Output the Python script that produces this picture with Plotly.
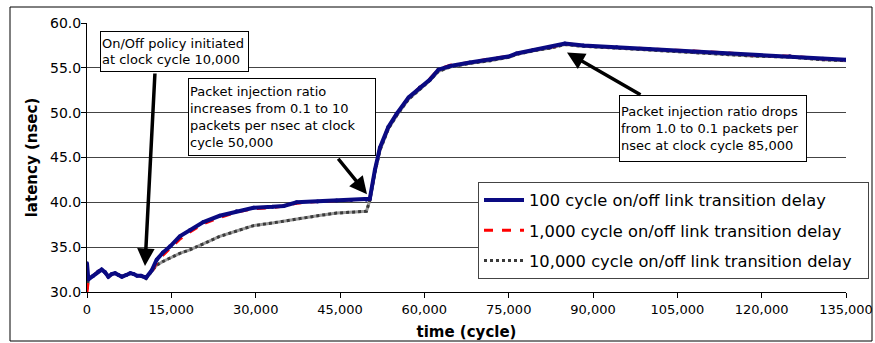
import plotly.graph_objects as go

# ---------------- data ----------------
time_cycle = [0, 240, 1100, 2000, 2600, 3200, 3800, 4400, 5000, 5600,
              6200, 7000, 7700, 8300, 8900, 9600, 10500, 11500, 12400, 13500,
              14800, 16500, 18300, 20700, 23600, 26600, 29600, 33000, 35000, 37300,
              41000, 44400, 47000, 49700, 50300, 51200, 52100, 53600, 55100, 57200,
              59200, 61000, 62500, 64600, 68100, 71700, 75200, 76400, 79400, 82400,
              85000, 88300, 94200, 100100, 108000, 113100, 119000, 125000, 130900, 135000]

lat_100 = [33.2, 31.4, 31.8, 32.3, 32.5, 32.2, 31.7, 32.0, 32.1, 31.9,
           31.7, 31.9, 32.1, 32.0, 31.8, 31.8, 31.6, 32.4, 33.6, 34.4,
           35.1, 36.2, 36.9, 37.8, 38.5, 39.0, 39.4, 39.5, 39.6, 40.0,
           40.1, 40.2, 40.25, 40.3, 40.4, 43.6, 46.1, 48.4, 49.9, 51.7,
           52.8, 53.7, 54.8, 55.2, 55.6, 55.9, 56.3, 56.6, 57.0, 57.3,
           57.7, 57.5, 57.3, 57.1, 56.8, 56.6, 56.4, 56.3, 56.0, 55.9]

lat_1000 = [30.0, 31.4, 31.8, 32.3, 32.5, 32.2, 31.7, 32.0, 32.1, 31.9,
            31.7, 31.9, 32.1, 32.0, 31.8, 31.8, 31.6, 32.2, 33.3, 34.1,
            34.9, 35.9, 36.7, 37.6, 38.3, 38.9, 39.3, 39.4, 39.6, 39.9,
            40.1, 40.2, 40.25, 40.3, 40.4, 43.6, 46.1, 48.4, 49.9, 51.7,
            52.8, 53.8, 54.8, 55.3, 55.6, 56.0, 56.3, 56.6, 57.0, 57.3,
            57.7, 57.5, 57.3, 57.1, 56.9, 56.7, 56.4, 56.3, 56.0, 55.9]

lat_10000 = [30.3, 31.5, 31.8, 32.3, 32.5, 32.2, 31.7, 32.0, 32.1, 31.9,
             31.7, 31.9, 32.1, 32.0, 31.8, 31.8, 31.5, 32.3, 33.0, 33.4,
             33.8, 34.3, 34.7, 35.4, 36.2, 36.8, 37.4, 37.7, 37.9, 38.2,
             38.5, 38.8, 38.9, 39.0, 40.2, 43.3, 45.8, 48.2, 49.7, 51.5,
             52.6, 53.6, 54.6, 55.1, 55.5, 55.8, 56.2, 56.5, 56.9, 57.2,
             57.6, 57.4, 57.2, 57.0, 56.7, 56.5, 56.3, 56.2, 55.9, 55.8]

series_names = ["100 cycle on/off link transition delay",
                "1,000 cycle on/off link transition delay",
                "10,000 cycle on/off link transition delay"]

x_ticks = [0, 15000, 30000, 45000, 60000, 75000, 90000, 105000, 120000, 135000]
y_ticks = [30, 35, 40, 45, 50, 55, 60]

notes = ["On/Off policy initiated<br>at clock cycle 10,000",
         "Packet injection ratio<br>increases from 0.1 to 10<br>packets per nsec at clock<br>cycle 50,000",
         "Packet injection ratio drops<br>from 1.0 to 0.1 packets per<br>nsec at clock cycle 85,000"]
note_targets = [(10316, 32.9), (49802, 40.9), (85375, 56.7)]

# ---------------- figure ----------------
W, H = 875, 343
L, R, T, B = 87, 29, 23, 51
pw, ph = W - L - R, H - T - B

# helpers: picture pixels -> paper fraction
def px(xr):
    return (xr - L) / pw

def py(yr):
    return (H - B - yr) / ph

FONT = "DejaVu Sans"
fig = go.Figure()

fig.add_trace(go.Scatter(x=time_cycle, y=lat_10000, mode="lines",
                         line=dict(color="#9a9a9a", width=3), showlegend=False,
                         hoverinfo="skip", legendgroup="c"))
fig.add_trace(go.Scatter(x=time_cycle, y=lat_10000, mode="lines",
                         name=series_names[2] + "\u00a0\u00a0",
                         line=dict(color="#3a3a3a", width=3, dash="dot"),
                         legendrank=3, legendgroup="c"))
fig.add_trace(go.Scatter(x=time_cycle, y=lat_1000, mode="lines",
                         name=series_names[1],
                         line=dict(color="#ff0000", width=3, dash="dash"),
                         legendrank=2, legendgroup="b"))
fig.add_trace(go.Scatter(x=time_cycle, y=lat_100, mode="lines+markers",
                         name=series_names[0],
                         line=dict(color="#0a0a82", width=4),
                         marker=dict(size=4, color="#0a0a82"),
                         legendrank=1, legendgroup="a"))

annotations = []
boxes = [(100, 31, 145, 37), (188, 78, 184, 74), (619, 95, 184, 63)]
arrow_offsets = [(10, -194), (-30, -37), (75, 43)]
for (bx, by, bw, bh), txt in zip(boxes, notes):
    annotations.append(dict(text=txt, xref="paper", yref="paper", x=px(bx), y=py(by),
                            xanchor="left", yanchor="top", align="left", valign="middle",
                            width=bw, height=bh, showarrow=False,
                            bgcolor="white", bordercolor="black", borderwidth=1, borderpad=1,
                            font=dict(family=FONT, size=13, color="black")))
for (tx, ty), (ax, ay) in zip(note_targets, arrow_offsets):
    annotations.append(dict(text="", x=tx, y=ty, xref="x", yref="y", ax=ax, ay=ay,
                            showarrow=True, arrowhead=2, arrowsize=1.0, arrowwidth=3.5,
                            arrowcolor="black"))

fig.update_layout(
    width=W, height=H,
    margin=dict(l=L, r=R, t=T, b=B, autoexpand=False),
    paper_bgcolor="white", plot_bgcolor="white",
    font=dict(family=FONT, size=13, color="black"),
    showlegend=True,
    legend=dict(x=px(478), y=py(182), xanchor="left", yanchor="top",
                bgcolor="white", bordercolor="#444444", borderwidth=1,
                font=dict(family=FONT, size=16.3, color="black"),
                itemwidth=40, tracegroupgap=6, traceorder="grouped"),
    xaxis=dict(range=[0, 135000], tickvals=x_ticks, tickformat=",d",
               showgrid=False, zeroline=False, showline=True, linecolor="black",
               linewidth=1, ticks="outside", ticklen=5, tickcolor="black",
               tickfont=dict(family=FONT, size=13),
               title=dict(text="<b>time (cycle)</b>", standoff=10,
                          font=dict(family=FONT, size=15))),
    yaxis=dict(range=[30, 60], tickvals=y_ticks, tickformat=".1f",
               showgrid=True, gridcolor="#444444", gridwidth=1,
               zeroline=False, showline=True, linecolor="black", linewidth=1,
               ticks="outside", ticklen=5, tickcolor="black",
               tickfont=dict(family=FONT, size=14), ticklabelstandoff=-3,
               title=dict(text="<b>latency (nsec)</b>", standoff=8,
                          font=dict(family=FONT, size=15))),
    annotations=annotations,
    shapes=[dict(type="rect", xref="paper", yref="paper",
                 x0=px(10), x1=px(872), y0=py(341), y1=py(7),
                 line=dict(color="black", width=1), layer="above")],
)

fig.write_html("out.html", config={"displayModeBar": False},
               post_script="document.body.style.margin='0';document.body.style.overflow='hidden';")
